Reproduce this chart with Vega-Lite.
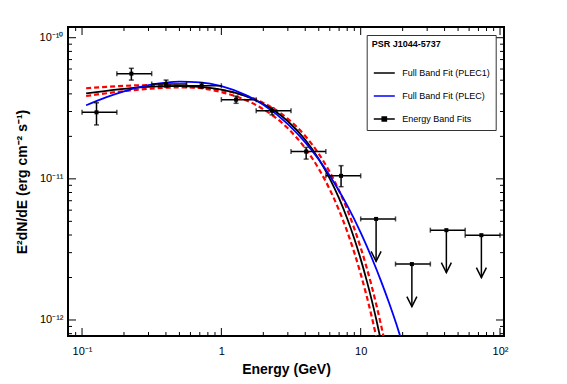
{
  "$schema": "https://vega.github.io/schema/vega-lite/v6.json",
  "width": 436,
  "height": 309,
  "autosize": {"type": "none"},
  "padding": {"left": 68, "top": 27, "right": 63, "bottom": 48},
  "background": "white",
  "config": {
    "font": "Liberation Sans",
    "view": {"stroke": "black", "strokeWidth": 2}
  },
  "datasets": {
    "xticks": [
      {"E": 0.08, "kind": "minor"}, {"E": 0.09, "kind": "minor"}, {"E": 0.1, "kind": "major"},
      {"E": 0.2, "kind": "minor"}, {"E": 0.3, "kind": "minor"}, {"E": 0.4, "kind": "minor"}, {"E": 0.5, "kind": "minor"},
      {"E": 0.6, "kind": "minor"}, {"E": 0.7, "kind": "minor"}, {"E": 0.8, "kind": "minor"}, {"E": 0.9, "kind": "minor"},
      {"E": 1, "kind": "major"},
      {"E": 2, "kind": "minor"}, {"E": 3, "kind": "minor"}, {"E": 4, "kind": "minor"}, {"E": 5, "kind": "minor"},
      {"E": 6, "kind": "minor"}, {"E": 7, "kind": "minor"}, {"E": 8, "kind": "minor"}, {"E": 9, "kind": "minor"},
      {"E": 10, "kind": "major"},
      {"E": 20, "kind": "minor"}, {"E": 30, "kind": "minor"}, {"E": 40, "kind": "minor"}, {"E": 50, "kind": "minor"},
      {"E": 60, "kind": "minor"}, {"E": 70, "kind": "minor"}, {"E": 80, "kind": "minor"}, {"E": 90, "kind": "minor"},
      {"E": 100, "kind": "major"}
    ],
    "yticks": [
      {"F": 8e-13, "kind": "minor"}, {"F": 9e-13, "kind": "minor"}, {"F": 1e-12, "kind": "major"},
      {"F": 2e-12, "kind": "minor"}, {"F": 3e-12, "kind": "minor"}, {"F": 4e-12, "kind": "minor"}, {"F": 5e-12, "kind": "minor"},
      {"F": 6e-12, "kind": "minor"}, {"F": 7e-12, "kind": "minor"}, {"F": 8e-12, "kind": "minor"}, {"F": 9e-12, "kind": "minor"},
      {"F": 1e-11, "kind": "major"},
      {"F": 2e-11, "kind": "minor"}, {"F": 3e-11, "kind": "minor"}, {"F": 4e-11, "kind": "minor"}, {"F": 5e-11, "kind": "minor"},
      {"F": 6e-11, "kind": "minor"}, {"F": 7e-11, "kind": "minor"}, {"F": 8e-11, "kind": "minor"}, {"F": 9e-11, "kind": "minor"},
      {"F": 1e-10, "kind": "major"}
    ],
    "curves": [
      {"series": "Full Band Fit (PLEC1)", "E": 0.107, "F": 4.036e-11},
      {"series": "Full Band Fit (PLEC1)", "E": 0.15, "F": 4.206e-11},
      {"series": "Full Band Fit (PLEC1)", "E": 0.2, "F": 4.337e-11},
      {"series": "Full Band Fit (PLEC1)", "E": 0.3, "F": 4.481e-11},
      {"series": "Full Band Fit (PLEC1)", "E": 0.4, "F": 4.539e-11},
      {"series": "Full Band Fit (PLEC1)", "E": 0.5, "F": 4.55e-11},
      {"series": "Full Band Fit (PLEC1)", "E": 0.7, "F": 4.487e-11},
      {"series": "Full Band Fit (PLEC1)", "E": 1, "F": 4.288e-11},
      {"series": "Full Band Fit (PLEC1)", "E": 1.5, "F": 3.852e-11},
      {"series": "Full Band Fit (PLEC1)", "E": 2, "F": 3.393e-11},
      {"series": "Full Band Fit (PLEC1)", "E": 3, "F": 2.559e-11},
      {"series": "Full Band Fit (PLEC1)", "E": 4, "F": 1.891e-11},
      {"series": "Full Band Fit (PLEC1)", "E": 5, "F": 1.384e-11},
      {"series": "Full Band Fit (PLEC1)", "E": 6, "F": 1.005e-11},
      {"series": "Full Band Fit (PLEC1)", "E": 7, "F": 7.27e-12},
      {"series": "Full Band Fit (PLEC1)", "E": 8, "F": 5.24e-12},
      {"series": "Full Band Fit (PLEC1)", "E": 9, "F": 3.764e-12},
      {"series": "Full Band Fit (PLEC1)", "E": 10, "F": 2.699e-12},
      {"series": "Full Band Fit (PLEC1)", "E": 11, "F": 1.932e-12},
      {"series": "Full Band Fit (PLEC1)", "E": 12, "F": 1.382e-12},
      {"series": "Full Band Fit (PLEC1)", "E": 13, "F": 9.87e-13},
      {"series": "Full Band Fit (PLEC1)", "E": 14, "F": 7.04e-13},
      {"series": "Full Band Fit (PLEC1)", "E": 15, "F": 5.02e-13},
      {"series": "Full Band Fit (PLEC)", "E": 0.107, "F": 3.32e-11},
      {"series": "Full Band Fit (PLEC)", "E": 0.15, "F": 3.796e-11},
      {"series": "Full Band Fit (PLEC)", "E": 0.2, "F": 4.171e-11},
      {"series": "Full Band Fit (PLEC)", "E": 0.3, "F": 4.607e-11},
      {"series": "Full Band Fit (PLEC)", "E": 0.4, "F": 4.805e-11},
      {"series": "Full Band Fit (PLEC)", "E": 0.5, "F": 4.88e-11},
      {"series": "Full Band Fit (PLEC)", "E": 0.7, "F": 4.825e-11},
      {"series": "Full Band Fit (PLEC)", "E": 1, "F": 4.534e-11},
      {"series": "Full Band Fit (PLEC)", "E": 1.5, "F": 3.921e-11},
      {"series": "Full Band Fit (PLEC)", "E": 2, "F": 3.345e-11},
      {"series": "Full Band Fit (PLEC)", "E": 3, "F": 2.443e-11},
      {"series": "Full Band Fit (PLEC)", "E": 4, "F": 1.813e-11},
      {"series": "Full Band Fit (PLEC)", "E": 5, "F": 1.371e-11},
      {"series": "Full Band Fit (PLEC)", "E": 6, "F": 1.053e-11},
      {"series": "Full Band Fit (PLEC)", "E": 7, "F": 8.21e-12},
      {"series": "Full Band Fit (PLEC)", "E": 8, "F": 6.48e-12},
      {"series": "Full Band Fit (PLEC)", "E": 10, "F": 4.16e-12},
      {"series": "Full Band Fit (PLEC)", "E": 12, "F": 2.761e-12},
      {"series": "Full Band Fit (PLEC)", "E": 14, "F": 1.887e-12},
      {"series": "Full Band Fit (PLEC)", "E": 16, "F": 1.318e-12},
      {"series": "Full Band Fit (PLEC)", "E": 18, "F": 9.39e-13},
      {"series": "Full Band Fit (PLEC)", "E": 20, "F": 6.79e-13},
      {"series": "Full Band Fit (PLEC)", "E": 22, "F": 4.99e-13}
    ],
    "bands": [
      {"band": "outer", "E": 0.107, "F": 3.864e-11},
      {"band": "outer", "E": 0.15, "F": 4.043e-11},
      {"band": "outer", "E": 0.2, "F": 4.182e-11},
      {"band": "outer", "E": 0.3, "F": 4.344e-11},
      {"band": "outer", "E": 0.4, "F": 4.42e-11},
      {"band": "outer", "E": 0.5, "F": 4.447e-11},
      {"band": "outer", "E": 0.7, "F": 4.416e-11},
      {"band": "outer", "E": 1, "F": 4.256e-11},
      {"band": "outer", "E": 1.5, "F": 3.875e-11},
      {"band": "outer", "E": 2, "F": 3.454e-11},
      {"band": "outer", "E": 3, "F": 2.664e-11},
      {"band": "outer", "E": 4, "F": 2.014e-11},
      {"band": "outer", "E": 5, "F": 1.504e-11},
      {"band": "outer", "E": 6, "F": 1.116e-11},
      {"band": "outer", "E": 7, "F": 8.24e-12},
      {"band": "outer", "E": 8, "F": 6.06e-12},
      {"band": "outer", "E": 9, "F": 4.445e-12},
      {"band": "outer", "E": 10, "F": 3.253e-12},
      {"band": "outer", "E": 11, "F": 2.376e-12},
      {"band": "outer", "E": 12, "F": 1.733e-12},
      {"band": "outer", "E": 13, "F": 1.263e-12},
      {"band": "outer", "E": 14, "F": 9.19e-13},
      {"band": "outer", "E": 15, "F": 6.68e-13},
      {"band": "outer", "E": 16, "F": 4.86e-13},
      {"band": "inner", "E": 0.107, "F": 4.386e-11},
      {"band": "inner", "E": 0.15, "F": 4.49e-11},
      {"band": "inner", "E": 0.2, "F": 4.559e-11},
      {"band": "inner", "E": 0.3, "F": 4.609e-11},
      {"band": "inner", "E": 0.4, "F": 4.596e-11},
      {"band": "inner", "E": 0.5, "F": 4.55e-11},
      {"band": "inner", "E": 0.7, "F": 4.402e-11},
      {"band": "inner", "E": 1, "F": 4.118e-11},
      {"band": "inner", "E": 1.5, "F": 3.606e-11},
      {"band": "inner", "E": 2, "F": 3.114e-11},
      {"band": "inner", "E": 3, "F": 2.28e-11},
      {"band": "inner", "E": 4, "F": 1.646e-11},
      {"band": "inner", "E": 5, "F": 1.179e-11},
      {"band": "inner", "E": 6, "F": 8.41e-12},
      {"band": "inner", "E": 7, "F": 5.974e-12},
      {"band": "inner", "E": 8, "F": 4.236e-12},
      {"band": "inner", "E": 9, "F": 2.998e-12},
      {"band": "inner", "E": 10, "F": 2.12e-12},
      {"band": "inner", "E": 11, "F": 1.496e-12},
      {"band": "inner", "E": 12, "F": 1.055e-12},
      {"band": "inner", "E": 13, "F": 7.43e-13},
      {"band": "inner", "E": 14, "F": 5.24e-13}
    ],
    "bins": [
      {"series": "Energy Band Fits", "kind": "point", "E": 0.127, "Elo": 0.1, "Ehi": 0.1778, "F": 2.96e-11, "Flo": 2.41e-11, "Fhi": 3.46e-11},
      {"series": "Energy Band Fits", "kind": "point", "E": 0.226, "Elo": 0.1778, "Ehi": 0.3162, "F": 5.56e-11, "Flo": 5.01e-11, "Fhi": 6.07e-11},
      {"series": "Energy Band Fits", "kind": "point", "E": 0.401, "Elo": 0.3162, "Ehi": 0.5623, "F": 4.7e-11, "Flo": 4.46e-11, "Fhi": 5.01e-11},
      {"series": "Energy Band Fits", "kind": "point", "E": 0.722, "Elo": 0.5623, "Ehi": 1.0, "F": 4.57e-11, "Flo": 4.38e-11, "Fhi": 4.8e-11},
      {"series": "Energy Band Fits", "kind": "point", "E": 1.275, "Elo": 1.0, "Ehi": 1.778, "F": 3.64e-11, "Flo": 3.43e-11, "Fhi": 3.86e-11},
      {"series": "Energy Band Fits", "kind": "point", "E": 2.31, "Elo": 1.778, "Ehi": 3.162, "F": 3.04e-11, "Flo": 2.84e-11, "Fhi": 3.19e-11},
      {"series": "Energy Band Fits", "kind": "point", "E": 4.06, "Elo": 3.162, "Ehi": 5.623, "F": 1.56e-11, "Flo": 1.38e-11, "Fhi": 1.67e-11},
      {"series": "Energy Band Fits", "kind": "point", "E": 7.23, "Elo": 5.623, "Ehi": 10.0, "F": 1.05e-11, "Flo": 8.8e-12, "Fhi": 1.24e-11},
      {"series": "Energy Band Fits", "kind": "limit", "E": 12.9, "Elo": 10.0, "Ehi": 17.78, "F": 5.2e-12, "Ftip": 2.6e-12},
      {"series": "Energy Band Fits", "kind": "limit", "E": 23.3, "Elo": 17.78, "Ehi": 31.62, "F": 2.49e-12, "Ftip": 1.245e-12},
      {"series": "Energy Band Fits", "kind": "limit", "E": 41.2, "Elo": 31.62, "Ehi": 56.23, "F": 4.33e-12, "Ftip": 2.165e-12},
      {"series": "Energy Band Fits", "kind": "limit", "E": 73.5, "Elo": 56.23, "Ehi": 100.0, "F": 3.99e-12, "Ftip": 1.995e-12}
    ]
  },
  "resolve": {"axis": {"x": "independent", "y": "independent"}},
  "layer": [
    {
      "data": {"name": "bands"},
      "mark": {"type": "line", "color": "#ff0000", "strokeWidth": 2.2, "strokeDash": [5, 3], "clip": true, "interpolate": "monotone"},
      "encoding": {
        "x": {"field": "E", "type": "quantitative", "scale": {"type": "log", "domain": [0.0793, 106.8], "nice": false, "zero": false}, "axis": null},
        "y": {"field": "F", "type": "quantitative", "scale": {"type": "log", "domain": [7.7e-13, 1.191e-10], "nice": false, "zero": false}, "axis": null},
        "detail": {"field": "band", "type": "nominal"}
      }
    },
    {
      "data": {"name": "curves"},
      "mark": {"type": "line", "strokeWidth": 1.8, "clip": true, "interpolate": "monotone"},
      "encoding": {
        "x": {"field": "E", "type": "quantitative",
          "scale": {"type": "log", "domain": [0.0793, 106.8], "nice": false, "zero": false},
          "axis": {"orient": "bottom", "values": [0.1, 1, 10, 100], "ticks": false,
            "labelExpr": "datum.value == 0.1 ? '10⁻¹' : datum.value == 1 ? '1' : datum.value == 10 ? '10' : '10²'",
            "labelOverlap": false, "labelFontSize": 11, "labelColor": "black", "labelPadding": 9, "labelFlush": false,
            "domain": false, "grid": false,
            "title": "Energy (GeV)", "titleFontSize": 14, "titleFontWeight": "bold", "titleColor": "black", "titleBaseline": "middle", "titleY": 33}},
        "y": {"field": "F", "type": "quantitative",
          "scale": {"type": "log", "domain": [7.7e-13, 1.191e-10], "nice": false, "zero": false},
          "axis": {"orient": "left", "values": [1e-12, 1e-11, 1e-10], "ticks": false,
            "labelExpr": "datum.value == 1e-10 ? '10⁻¹⁰' : datum.value == 1e-11 ? '10⁻¹¹' : '10⁻¹²'",
            "labelOverlap": false, "labelFontSize": 11, "labelColor": "black", "labelPadding": 5, "labelFlush": false,
            "domain": false, "grid": false,
            "title": "E²dN/dE (erg cm⁻² s⁻¹)", "titleFontSize": 14, "titleFontWeight": "bold", "titleColor": "black", "titleBaseline": "middle", "titleX": -45.5}},
        "color": {"field": "series", "type": "nominal",
          "scale": {"domain": ["Full Band Fit (PLEC1)", "Full Band Fit (PLEC)", "Energy Band Fits"], "range": ["black", "#0000ff", "black"]},
          "legend": {"orient": "none", "legendX": 298.7, "legendY": 8, "title": "PSR J1044-5737",
            "titleFontSize": 9, "titleFontWeight": "bold", "titleColor": "black", "titlePadding": 16,
            "labelFontSize": 9, "labelColor": "black", "labelOffset": 10, "labelLimit": 300,
            "symbolSize": 196, "symbolStrokeWidth": 1.5, "symbolOffset": 4.6, "rowPadding": 10,
            "padding": 5, "strokeColor": "#333333", "fillColor": "white",
            "encode": {"symbols": {"update": {
              "shape": {"signal": "datum.value === 'Energy Band Fits' ? 'M-1.5,0H1.5M-0.3,-0.3H0.3V0.3H-0.3Z' : 'M-1.5,0H1.5'"},
              "fill": {"value": "black"},
              "stroke": {"signal": "datum.value === 'Full Band Fit (PLEC)' ? '#0000ff' : 'black'"},
              "strokeWidth": {"value": 1.5},
              "opacity": {"value": 1}}}}}}
      }
    },
    {
      "data": {"name": "xticks"},
      "mark": {"type": "tick", "orient": "vertical", "color": "black", "thickness": 1, "clip": true, "opacity": 1},
      "encoding": {
        "x": {"field": "E", "type": "quantitative", "scale": {"type": "log", "domain": [0.0793, 106.8], "nice": false, "zero": false}, "axis": null},
        "y": {"datum": 7.7e-13, "type": "quantitative", "scale": {"type": "log", "domain": [7.7e-13, 1.191e-10], "nice": false, "zero": false}, "axis": null},
        "size": {"field": "kind", "type": "ordinal", "scale": {"domain": ["major", "minor"], "range": [16, 8]}, "legend": null}
      }
    },
    {
      "data": {"name": "xticks"},
      "mark": {"type": "tick", "orient": "vertical", "color": "black", "thickness": 1, "clip": true, "opacity": 1},
      "encoding": {
        "x": {"field": "E", "type": "quantitative", "scale": {"type": "log", "domain": [0.0793, 106.8], "nice": false, "zero": false}, "axis": null},
        "y": {"datum": 1.191e-10, "type": "quantitative", "scale": {"type": "log", "domain": [7.7e-13, 1.191e-10], "nice": false, "zero": false}, "axis": null},
        "size": {"field": "kind", "type": "ordinal", "scale": {"domain": ["major", "minor"], "range": [16, 8]}, "legend": null}
      }
    },
    {
      "data": {"name": "yticks"},
      "mark": {"type": "tick", "orient": "horizontal", "color": "black", "thickness": 1, "clip": true, "opacity": 1},
      "encoding": {
        "x": {"datum": 0.0793, "type": "quantitative", "scale": {"type": "log", "domain": [0.0793, 106.8], "nice": false, "zero": false}, "axis": null},
        "y": {"field": "F", "type": "quantitative", "scale": {"type": "log", "domain": [7.7e-13, 1.191e-10], "nice": false, "zero": false}, "axis": null},
        "size": {"field": "kind", "type": "ordinal", "scale": {"domain": ["major", "minor"], "range": [26, 13]}, "legend": null}
      }
    },
    {
      "data": {"name": "yticks"},
      "mark": {"type": "tick", "orient": "horizontal", "color": "black", "thickness": 1, "clip": true, "opacity": 1},
      "encoding": {
        "x": {"datum": 106.8, "type": "quantitative", "scale": {"type": "log", "domain": [0.0793, 106.8], "nice": false, "zero": false}, "axis": null},
        "y": {"field": "F", "type": "quantitative", "scale": {"type": "log", "domain": [7.7e-13, 1.191e-10], "nice": false, "zero": false}, "axis": null},
        "size": {"field": "kind", "type": "ordinal", "scale": {"domain": ["major", "minor"], "range": [26, 13]}, "legend": null}
      }
    },
    {
      "data": {"name": "bins"},
      "mark": {"type": "rule", "color": "black", "strokeWidth": 1.5},
      "encoding": {
        "x": {"field": "Elo", "type": "quantitative", "scale": {"type": "log", "domain": [0.0793, 106.8], "nice": false, "zero": false}, "axis": null},
        "x2": {"field": "Ehi"},
        "y": {"field": "F", "type": "quantitative", "scale": {"type": "log", "domain": [7.7e-13, 1.191e-10], "nice": false, "zero": false}, "axis": null}
      }
    },
    {
      "data": {"name": "bins"},
      "mark": {"type": "tick", "color": "black", "orient": "vertical", "size": 5, "thickness": 1.5},
      "encoding": {
        "x": {"field": "Elo", "type": "quantitative", "scale": {"type": "log", "domain": [0.0793, 106.8], "nice": false, "zero": false}, "axis": null},
        "y": {"field": "F", "type": "quantitative", "scale": {"type": "log", "domain": [7.7e-13, 1.191e-10], "nice": false, "zero": false}, "axis": null}
      }
    },
    {
      "data": {"name": "bins"},
      "mark": {"type": "tick", "color": "black", "orient": "vertical", "size": 5, "thickness": 1.5},
      "encoding": {
        "x": {"field": "Ehi", "type": "quantitative", "scale": {"type": "log", "domain": [0.0793, 106.8], "nice": false, "zero": false}, "axis": null},
        "y": {"field": "F", "type": "quantitative", "scale": {"type": "log", "domain": [7.7e-13, 1.191e-10], "nice": false, "zero": false}, "axis": null}
      }
    },
    {
      "data": {"name": "bins"},
      "transform": [{"filter": "datum.kind == 'point'"}],
      "mark": {"type": "rule", "color": "black", "strokeWidth": 1.5},
      "encoding": {
        "x": {"field": "E", "type": "quantitative", "scale": {"type": "log", "domain": [0.0793, 106.8], "nice": false, "zero": false}, "axis": null},
        "y": {"field": "Flo", "type": "quantitative", "scale": {"type": "log", "domain": [7.7e-13, 1.191e-10], "nice": false, "zero": false}, "axis": null},
        "y2": {"field": "Fhi"}
      }
    },
    {
      "data": {"name": "bins"},
      "transform": [{"filter": "datum.kind == 'point'"}],
      "mark": {"type": "tick", "color": "black", "orient": "horizontal", "size": 5, "thickness": 1.5},
      "encoding": {
        "x": {"field": "E", "type": "quantitative", "scale": {"type": "log", "domain": [0.0793, 106.8], "nice": false, "zero": false}, "axis": null},
        "y": {"field": "Flo", "type": "quantitative", "scale": {"type": "log", "domain": [7.7e-13, 1.191e-10], "nice": false, "zero": false}, "axis": null}
      }
    },
    {
      "data": {"name": "bins"},
      "transform": [{"filter": "datum.kind == 'point'"}],
      "mark": {"type": "tick", "color": "black", "orient": "horizontal", "size": 5, "thickness": 1.5},
      "encoding": {
        "x": {"field": "E", "type": "quantitative", "scale": {"type": "log", "domain": [0.0793, 106.8], "nice": false, "zero": false}, "axis": null},
        "y": {"field": "Fhi", "type": "quantitative", "scale": {"type": "log", "domain": [7.7e-13, 1.191e-10], "nice": false, "zero": false}, "axis": null}
      }
    },
    {
      "data": {"name": "bins"},
      "transform": [{"filter": "datum.kind == 'limit'"}],
      "mark": {"type": "rule", "color": "black", "strokeWidth": 1.5},
      "encoding": {
        "x": {"field": "E", "type": "quantitative", "scale": {"type": "log", "domain": [0.0793, 106.8], "nice": false, "zero": false}, "axis": null},
        "y": {"field": "F", "type": "quantitative", "scale": {"type": "log", "domain": [7.7e-13, 1.191e-10], "nice": false, "zero": false}, "axis": null},
        "y2": {"field": "Ftip"}
      }
    },
    {
      "data": {"name": "bins"},
      "transform": [{"filter": "datum.kind == 'limit'"}],
      "mark": {"type": "point", "shape": "M-0.5,-1L0,0L0.5,-1", "size": 400, "filled": false, "stroke": "black", "strokeWidth": 1.5, "opacity": 1},
      "encoding": {
        "x": {"field": "E", "type": "quantitative", "scale": {"type": "log", "domain": [0.0793, 106.8], "nice": false, "zero": false}, "axis": null},
        "y": {"field": "Ftip", "type": "quantitative", "scale": {"type": "log", "domain": [7.7e-13, 1.191e-10], "nice": false, "zero": false}, "axis": null}
      }
    },
    {
      "data": {"name": "bins"},
      "mark": {"type": "point", "shape": "square", "size": 16, "filled": true, "opacity": 1},
      "encoding": {
        "x": {"field": "E", "type": "quantitative", "scale": {"type": "log", "domain": [0.0793, 106.8], "nice": false, "zero": false}, "axis": null},
        "y": {"field": "F", "type": "quantitative", "scale": {"type": "log", "domain": [7.7e-13, 1.191e-10], "nice": false, "zero": false}, "axis": null},
        "color": {"field": "series", "type": "nominal",
          "scale": {"domain": ["Full Band Fit (PLEC1)", "Full Band Fit (PLEC)", "Energy Band Fits"], "range": ["black", "#0000ff", "black"]}}
      }
    }
  ]
}
